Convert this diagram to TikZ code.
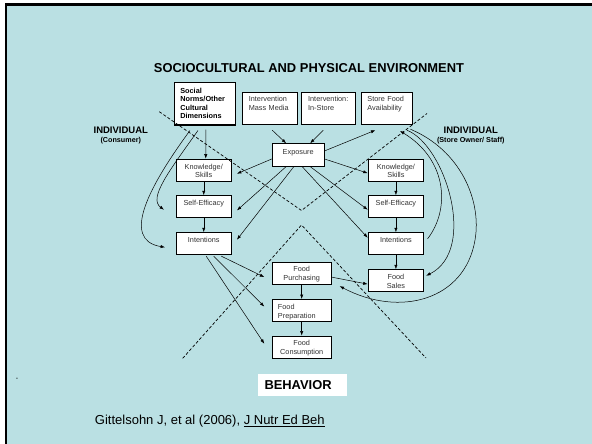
\documentclass[tikz,border=0pt]{standalone}
\usepackage{fontspec}
\setmainfont{Liberation Sans}
\usepackage{xcolor}
\definecolor{slidecyan}{RGB}{186,224,227}
\definecolor{boxgray}{RGB}{50,50,50}
\usetikzlibrary{arrows.meta, calc}

\tikzset{
  box/.style={draw=black, line width=0.9pt, fill=white, text=boxgray,
    font=\fontsize{7.3}{8.6}\selectfont, inner xsep=4pt, inner ysep=0pt,
    text height=10.2pt, text depth=11.8pt, align=center, anchor=north west},
  arr/.style={-{Latex[length=4.5pt,width=3.2pt]}, line width=0.5pt},
  divide/.style={dash pattern=on 3pt off 2pt, line width=0.7pt},
}

\begin{document}
\begin{tikzpicture}[x=1pt, y=-1pt]
  \useasboundingbox (0,0) rectangle (592,444);
  % slide background and frame
  \fill[white] (0,0) rectangle (592,444);
  \fill[slidecyan] (6,4.7) rectangle (592,444);
  \draw[line width=2.5pt] (6,444) -- (6,4.7) -- (592,4.7);

  % --- Headings ---
  \node[font=\fontsize{12.9}{15}\selectfont\bfseries] (title) at (309,68.3) {SOCIOCULTURAL AND PHYSICAL ENVIRONMENT};
  \node[font=\fontsize{9.5}{11}\selectfont\bfseries] (indl) at (120.8,130.3) {INDIVIDUAL};
  \node[font=\fontsize{7.2}{8}\selectfont\bfseries] (consumer) at (120.8,140.6) {(Consumer)};
  \node[font=\fontsize{9.5}{11}\selectfont\bfseries] (indr) at (470.8,130.3) {INDIVIDUAL};
  \node[font=\fontsize{7.2}{8}\selectfont\bfseries] (owner) at (470.8,140.6) {(Store Owner/ Staff)};

  % --- Environment boxes ---
  \node[box, line width=1.3pt, text=black, font=\fontsize{7.3}{8.6}\selectfont\bfseries, align=left,
        inner xsep=6pt, text width=49.1pt, text height=10.8pt, text depth=31.8pt] (norms) at (173.7,81.7)
        {Social\\Norms/Other\\Cultural\\Dimensions};
  \node[box, align=left, inner xsep=6.4pt, text width=42.2pt, text height=9.8pt, text depth=22.8pt] (media) at (242,91.7)
        {Intervention\\Mass Media};
  \node[box, align=left, inner xsep=6.7pt, text width=40.1pt, text height=9.8pt, text depth=22.8pt] (instore) at (301,91.7)
        {Intervention:\\In-Store};
  \node[box, align=left, inner xsep=6.4pt, text width=38.9pt, text height=9.8pt, text depth=22.8pt] (store) at (360.6,91.7)
        {Store Food\\Availability};
  \node[box, text width=43.8pt, text height=10.6pt] (expo) at (271.8,143.3) {Exposure};

  % --- Consumer column ---
  \node[box, text width=47.4pt] (lknow) at (175.6,158.7) {Knowledge/\\Skills};
  \node[box, text width=47.4pt] (lself) at (175.6,195.3) {Self-Efficacy};
  \node[box, text width=47.4pt] (lint)  at (175.6,232.3) {Intentions};

  % --- Store owner column ---
  \node[box, text width=47.5pt] (rknow) at (367.7,158.7) {Knowledge/\\Skills};
  \node[box, text width=47.5pt] (rself) at (367.7,195.3) {Self-Efficacy};
  \node[box, text width=47.5pt] (rint)  at (367.7,232.3) {Intentions};
  \node[box, text width=47.5pt] (sales) at (367.7,269.3) {Food\\Sales};

  % --- Behaviour boxes ---
  \node[box, text width=50.9pt, text height=9.5pt, text depth=12.8pt] (purch) at (271.8,262) {Food\\Purchasing};
  \node[box, align=left, inner xsep=5.7pt, text width=47.5pt, text height=10.5pt] (prep) at (271.8,299) {Food\\Preparation};
  \node[box, text width=50.9pt, text height=9.8pt, text depth=12.8pt] (cons) at (271.8,335.7) {Food\\Consumption};
  \node[fill=white, font=\fontsize{12.9}{15}\selectfont\bfseries, align=left, text width=75.8pt,
        inner xsep=6.5pt, inner ysep=0pt, text height=16pt, text depth=6.4pt, anchor=north west] (behav) at (257.8,373.3) {BEHAVIOR};

  % --- Dashed dividers ---
  \draw[divide] (159.3,111.7) -- (301.5,210.5) -- (427,113.5);
  \draw[divide] (182.7,358.3) -- (301.5,225) -- (426,358);

  % --- Arrows into and out of exposure ---
  \draw[arr] ([shift={(2.3,5)}]media.south) -- ([shift={(-12,0)}]expo.north);
  \draw[arr] ([shift={(-5,5)}]instore.south) -- ([shift={(12,0)}]expo.north);
  \draw[arr] ([shift={(0,-4)}]expo.east) -- ([shift={(-11.5,5)}]store.south);
  \draw[arr] ([shift={(0,4)}]expo.west) -- ([shift={(5,3.6)}]lknow.east);
  \draw[arr] ([shift={(-12,0)}]expo.south) -- ([shift={(5,3.7)}]lself.east);
  \draw[arr] ([shift={(-4.3,0)}]expo.south) -- ([shift={(5,-4)}]lint.east);
  \draw[arr] ([shift={(0,4)}]expo.east) -- ([shift={(0,3)}]rknow.west);
  \draw[arr] ([shift={(12,0)}]expo.south) -- ([shift={(0,3)}]rself.west);
  \draw[arr] ([shift={(4,0)}]expo.south) -- ([shift={(0,-6)}]rint.west);

  % --- Consumer side ---
  \draw[arr] ([shift={(1,4)}]norms.south) -- ([shift={(2,0)}]lknow.north);
  \draw[arr] (lknow) -- (lself);
  \draw[arr] (lself) -- (lint);
  \draw[arr] ([shift={(-7,5)}]norms.south) .. controls (170,170) and (148,198) .. ([shift={(-11.6,3)}]lself.west);
  \draw[arr] ([shift={(-15,5)}]norms.south) .. controls (150,185) and (120,240) .. ([shift={(-10.5,3.5)}]lint.west);
  \draw[arr] ([shift={(17.6,1)}]lint.south) -- ([shift={(-7.5,3.5)}]purch.west);
  \draw[arr] ([shift={(10,1)}]lint.south) -- ([shift={(-7.5,-4)}]prep.west);
  \draw[arr] ([shift={(2.5,1)}]lint.south) -- ([shift={(-7.5,-3.7)}]cons.west);

  % --- Behaviour chain ---
  \draw[arr] (purch) -- (prep);
  \draw[arr] (prep) -- (cons);
  \draw[arr] ([shift={(0,3.5)}]purch.east) -- ([shift={(0,3.4)}]sales.west);

  % --- Store owner side ---
  \draw[arr] (rknow) -- (rself);
  \draw[arr] (rself) -- (rint);
  \draw[arr] (rint) -- (sales);
  \draw[arr] ([shift={(3.5,-5)}]rint.east) .. controls (450,210) and (448,160) .. ([shift={(13,5.7)}]store.south);
  \draw[arr] ([shift={(20,5)}]store.south) .. controls (445,145) and (478,250) .. ([shift={(2,-5)}]sales.east);
  \draw[arr] ([shift={(23.5,4)}]store.south) .. controls (460,150) and (482,200) .. (475,240)
        .. controls (465,300) and (400,318) .. ([shift={(8,12.5)}]purch.east);

  % --- Source line ---
  \node[font=\fontsize{7}{8}\selectfont] (dash) at (17,379.3) {-};
  \node[anchor=base west, font=\fontsize{13}{15}\selectfont] (cite) at (91.4,424.5)
        {Gittelsohn J, et al (2006), \underline{J Nutr Ed Beh}};
\end{tikzpicture}
\end{document}
